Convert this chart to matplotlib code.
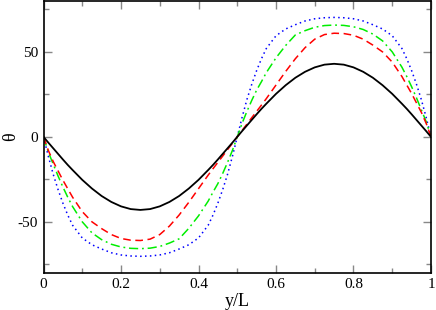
import matplotlib
matplotlib.use("Agg")
import matplotlib.pyplot as plt
from matplotlib.ticker import MultipleLocator

x = [0, 0.0125, 0.025, 0.0375, 0.05, 0.0625, 0.075, 0.1, 0.125, 0.15, 0.175, 0.2, 0.225, 0.25,
     0.275, 0.3, 0.325, 0.35, 0.375, 0.4, 0.425, 0.4375, 0.45, 0.4625, 0.475, 0.4875, 0.5,
     0.5125, 0.525, 0.5375, 0.55, 0.5625, 0.575, 0.6, 0.625, 0.65, 0.675, 0.7, 0.725, 0.75,
     0.775, 0.8, 0.825, 0.85, 0.875, 0.9, 0.925, 0.9375, 0.95, 0.9625, 0.975, 0.9875, 1.0]

theta_black = [0, -3.4, -6.7, -10.0, -13.3, -16.5, -19.5, -25.3, -30.4, -34.8, -38.3, -40.9, -42.5, -43.0,
               -42.5, -40.9, -38.3, -34.8, -30.4, -25.3, -19.5, -16.5, -13.3, -10.0, -6.7, -3.4, 0,
               3.4, 6.7, 10.0, 13.3, 16.5, 19.5, 25.3, 30.4, 34.8, 38.3, 40.9, 42.5, 43.0,
               42.5, 40.9, 38.3, 34.8, 30.4, 25.3, 19.5, 16.5, 13.3, 10.0, 6.7, 3.4, 0]

theta_red = [0, -8.0, -14.5, -20.0, -25.5, -30.5, -35.5, -44.0, -50.0, -54.0, -57.5, -59.8, -60.8, -61.0,
             -60.2, -57.5, -52.5, -46.0, -38.5, -30.5, -22.5, -18.7, -15.0, -11.3, -7.5, -3.8, 0,
             3.8, 7.5, 11.3, 15.0, 18.7, 22.5, 30.5, 38.5, 46.0, 52.5, 57.5, 60.2, 61.0,
             60.8, 59.8, 57.5, 54.0, 50.0, 44.0, 35.5, 30.5, 25.5, 20.0, 14.5, 8.0, 0]

theta_green = [0, -9.0, -16.0, -23.0, -29.5, -35.5, -41.0, -50.0, -56.5, -60.5, -63.2, -64.8, -65.6, -65.8,
               -65.5, -64.5, -62.5, -60.0, -53.8, -46.5, -37.8, -32.5, -27.5, -21.5, -15.0, -8.0, 0,
               8.0, 15.0, 21.5, 27.5, 32.5, 37.8, 46.5, 53.8, 60.0, 62.5, 64.5, 65.5, 65.8,
               65.6, 64.8, 63.2, 60.5, 56.5, 50.0, 41.0, 35.5, 29.5, 23.0, 16.0, 9.0, 0]

theta_blue = [0, -11.5, -22.0, -31.0, -39.0, -46.0, -52.0, -59.5, -63.5, -66.0, -68.2, -69.5, -70.1, -70.3,
              -70.1, -69.5, -68.2, -66.0, -63.5, -59.5, -52.0, -46.0, -39.0, -31.0, -22.0, -11.5, 0,
              11.5, 22.0, 31.0, 39.0, 46.0, 52.0, 59.5, 63.5, 66.0, 68.2, 69.5, 70.1, 70.3,
              70.1, 69.5, 68.2, 66.0, 63.5, 59.5, 52.0, 46.0, 39.0, 31.0, 22.0, 11.5, 0]

plt.rcParams['font.family'] = ['Liberation Serif', 'DejaVu Serif']

fig = plt.figure(figsize=(4.36, 3.10), dpi=100)
ax = fig.add_axes([0.0998, 0.120, 0.8887, 0.877])

lw = 1.1
ax.plot(x, theta_blue, color='#0000ff', lw=lw, linestyle=(0, (1, 2.2)))
ax.plot(x, theta_green, color='#00ee00', lw=lw, linestyle=(0, (6, 2.5, 1.2, 2.5)))
ax.plot(x, theta_red, color='#ff0000', lw=lw, linestyle=(0, (5, 3)))
ax.plot(x, theta_black, color='black', lw=1.3)

ax.set_xlim(0, 1)
ax.set_ylim(-80, 80)
ax.xaxis.set_major_locator(MultipleLocator(0.2))
ax.xaxis.set_minor_locator(MultipleLocator(0.1))
ax.yaxis.set_major_locator(MultipleLocator(50))
ax.yaxis.set_minor_locator(MultipleLocator(25))
ax.set_xticks([0, 0.2, 0.4, 0.6, 0.8, 1.0])
ax.set_xticklabels(['0', '0.2', '0.4', '0.6', '0.8', '1'])
ax.set_yticks([-50, 0, 50])
ax.set_yticklabels(['-50', '0', '50'])

ax.tick_params(which='both', direction='in', top=True, right=True, color='#888888', width=1.0,
               labelsize=11, pad=4)
ax.tick_params(which='major', length=6)
ax.tick_params(which='minor', length=3.5)
for s in ax.spines.values():
    s.set_linewidth(1.2)

ax.set_xlabel('y/L', fontsize=13, labelpad=1)
ax.set_ylabel('θ', fontsize=13, va='center', ha='center')
ax.yaxis.set_label_coords(-0.085, 0.5)

fig.savefig('out.png', dpi=100)
